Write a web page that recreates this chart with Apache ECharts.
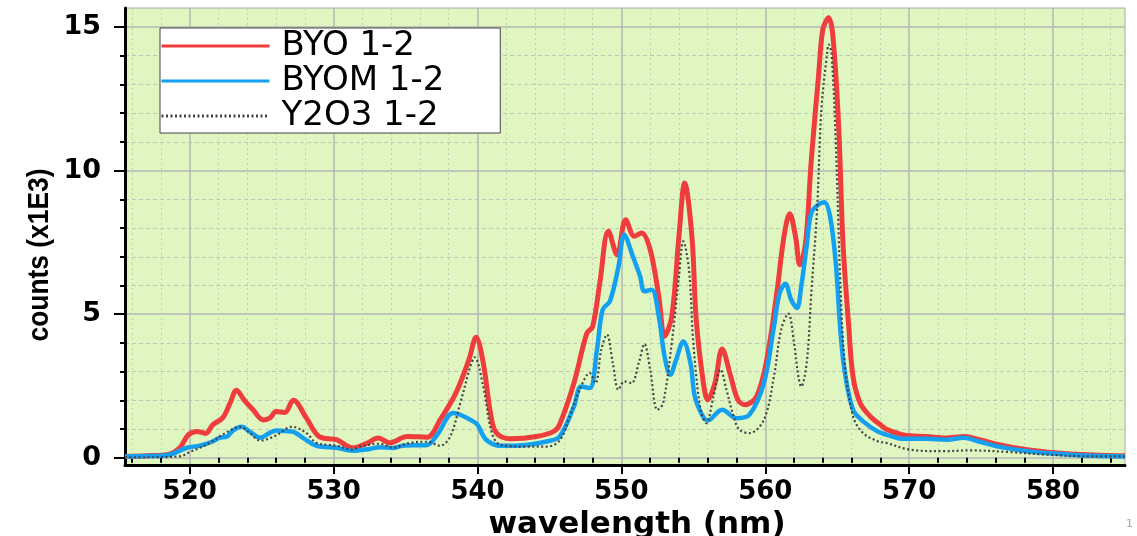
<!DOCTYPE html>
<html>
<head>
<meta charset="utf-8">
<title>counts vs wavelength</title>
<script src="https://cdn.jsdelivr.net/npm/echarts@6/dist/echarts.min.js"></script>
<style>
  html, body { margin: 0; padding: 0; background: #fff; }
  #chart { width: 1137px; height: 536px; }
</style>
</head>
<body>
<div id="chart"></div>
<script>
// BYO 1-2 (red)
const byoNm = [515.5, 517, 518.5, 519.3, 519.9, 520.5, 521.1, 521.6, 522.3, 522.8, 523.25, 523.8, 524.4, 525.1, 525.6, 526.0, 526.6, 527.2, 528.1, 529.0, 530.2, 531.3, 532.3, 533.1, 533.9, 535.1, 536.5, 537.4, 538.5, 539.4, 539.9, 540.4, 540.9, 541.3, 542.3, 544.1, 545.3, 545.7, 546.7, 547.6, 548.0, 548.5, 549.1, 549.7, 550.3, 550.9, 551.4, 552.0, 552.6, 553.0, 553.5, 554.0, 554.4, 554.9, 555.2, 555.7, 556.0, 556.5, 557.0, 557.6, 558.1, 558.6, 559.4, 560.1, 560.8, 561.3, 561.7, 562.1, 562.4, 562.8, 563.2, 563.7, 564.0, 564.4, 564.7, 565.1, 565.4, 565.8, 566.1, 566.6, 567.3, 568.0, 568.4, 569.6, 571.2, 572.6, 573.8, 574.9, 576.3, 578.2, 580.0, 582.8, 585.0];
const byoCounts = [0.05, 0.07, 0.12, 0.35, 0.8, 0.92, 0.85, 1.15, 1.4, 1.9, 2.35, 2.0, 1.67, 1.32, 1.4, 1.61, 1.58, 2.0, 1.39, 0.74, 0.63, 0.35, 0.5, 0.69, 0.52, 0.74, 0.72, 1.32, 2.26, 3.41, 4.2, 3.3, 1.56, 0.87, 0.66, 0.74, 0.92, 1.15, 2.6, 4.34, 4.57, 6.09, 7.89, 7.07, 8.29, 7.71, 7.83, 7.25, 5.62, 4.23, 4.92, 7.71, 9.57, 7.71, 4.81, 2.6, 2.02, 2.6, 3.79, 2.83, 2.02, 1.85, 2.14, 3.41, 5.74, 7.71, 8.5, 7.71, 6.72, 7.48, 10.38, 13.29, 14.91, 15.32, 14.68, 11.54, 7.48, 4.57, 2.83, 1.9, 1.44, 1.15, 1.0, 0.8, 0.74, 0.69, 0.74, 0.63, 0.45, 0.28, 0.18, 0.1, 0.07];

// BYOM 1-2 (blue)
const byomNm = [515.5, 517, 518.5, 519.8, 520.7, 521.5, 522.1, 522.6, 523.0, 523.6, 524.2, 524.9, 525.5, 526.0, 526.6, 527.1, 528.0, 528.8, 530.2, 531.3, 532.5, 533.2, 534.1, 534.8, 536.5, 537.2, 538.3, 538.8, 539.7, 540.0, 540.6, 541.6, 543.4, 544.8, 545.7, 546.7, 547.2, 547.8, 548.3, 548.7, 549.2, 549.8, 550.2, 550.8, 551.3, 551.6, 552.1, 552.6, 553.0, 553.4, 553.8, 554.3, 554.8, 555.1, 555.6, 556.0, 557.0, 558.0, 558.9, 559.9, 560.6, 561.0, 561.4, 561.8, 562.2, 562.5, 562.9, 563.2, 563.7, 564.1, 564.5, 564.9, 565.2, 565.5, 566.1, 566.8, 567.8, 568.4, 569.6, 571.2, 572.6, 573.8, 574.9, 576.3, 578.2, 580.0, 582.8, 585.0];
const byomCounts = [0.05, 0.06, 0.1, 0.35, 0.42, 0.55, 0.7, 0.74, 0.95, 1.08, 0.9, 0.7, 0.85, 0.95, 0.93, 0.92, 0.65, 0.42, 0.35, 0.25, 0.31, 0.37, 0.34, 0.42, 0.45, 0.8, 1.56, 1.5, 1.27, 1.15, 0.63, 0.42, 0.45, 0.57, 0.74, 1.79, 2.48, 2.43, 3.76, 5.16, 5.45, 6.67, 7.77, 7.01, 6.32, 5.8, 5.85, 4.92, 3.53, 2.89, 3.41, 4.05, 3.3, 2.14, 1.5, 1.3, 1.67, 1.38, 1.5, 2.6, 4.57, 5.74, 6.06, 5.5, 5.22, 5.97, 7.48, 8.53, 8.82, 8.9, 8.41, 6.78, 4.57, 3.07, 1.67, 1.27, 0.92, 0.81, 0.66, 0.66, 0.63, 0.7, 0.56, 0.38, 0.23, 0.15, 0.07, 0.05];

// Y2O3 1-2 (grey dotted)
const y2o3Nm = [515.5, 517, 519.3, 520.0, 520.7, 521.5, 522.5, 523.5, 524.2, 524.9, 526.0, 527.1, 528.1, 528.8, 530.2, 531.3, 531.8, 533.2, 534.1, 535.3, 536.5, 537.4, 538.1, 538.8, 539.5, 539.8, 540.4, 541.0, 541.6, 543.4, 544.8, 545.7, 546.4, 547.1, 547.8, 548.2, 548.6, 549.0, 549.4, 549.8, 550.2, 550.7, 551.2, 551.6, 552.0, 552.5, 552.9, 553.5, 554.0, 554.3, 554.7, 555.0, 555.5, 555.9, 556.4, 556.9, 557.3, 557.8, 558.2, 558.9, 559.9, 560.6, 561.1, 561.6, 562.0, 562.3, 562.5, 562.9, 563.2, 563.6, 563.9, 564.3, 564.4, 564.6, 564.9, 565.2, 565.5, 566.1, 566.8, 567.8, 568.4, 570.1, 572.4, 574.2, 577.0, 579.3, 582.8, 585.0];
const y2o3Counts = [0.02, 0.02, 0.05, 0.2, 0.35, 0.55, 0.87, 1.08, 0.85, 0.6, 0.78, 1.08, 0.87, 0.52, 0.42, 0.28, 0.39, 0.49, 0.35, 0.52, 0.56, 0.42, 0.74, 1.9, 3.18, 3.5, 2.48, 0.86, 0.45, 0.39, 0.39, 0.6, 1.44, 2.37, 2.95, 2.6, 3.76, 4.29, 3.3, 2.37, 2.66, 2.6, 3.3, 3.96, 3.07, 1.67, 1.9, 4.0, 6.32, 7.54, 6.55, 4.0, 1.67, 1.21, 2.14, 3.07, 2.37, 1.44, 0.98, 0.86, 1.32, 2.83, 4.46, 5.02, 4.0, 2.83, 2.48, 3.41, 5.74, 8.64, 12.13, 14.1, 14.39, 14.1, 10.97, 6.32, 3.41, 1.44, 0.86, 0.58, 0.52, 0.28, 0.23, 0.26, 0.2, 0.12, 0.05, 0.05];

// ticks
const xMajorTicks = [520, 530, 540, 550, 560, 570, 580];
const xMinorTicks = [516, 518, 522, 524, 526, 528, 532, 534, 536, 538, 542, 544, 546, 548, 552, 554, 556, 558, 562, 564, 566, 568, 572, 574, 576, 578, 582, 584];
const yMajorTicks = [0, 5, 10, 15];
const yMinorTicks = [1, 2, 3, 4, 6, 7, 8, 9, 11, 12, 13, 14];

const pairs = (xs, ys) => xs.map((x, i) => [x, ys[i]]);

const chart = echarts.init(document.getElementById('chart'));

const tickFont = {
  fontFamily: 'DejaVu Sans',
  fontWeight: 'bold',
  fontSize: 26,
  color: '#000'
};

chart.setOption({
  animation: false,
  backgroundColor: '#fff',
  grid: {
    left: 125,
    right: 12,
    top: 8,
    bottom: 71,
    show: true,
    backgroundColor: '#dff6c0',
    borderColor: '#a8a8a8',
    borderWidth: 1,
    outerBoundsMode: 'none'
  },
  legend: {
    orient: 'vertical',
    left: 160,
    top: 28,
    padding: [1, 56, 0, 0],
    itemGap: 1,
    itemWidth: 108,
    itemHeight: 20,
    backgroundColor: '#fff',
    borderColor: '#444',
    borderWidth: 1,
    borderRadius: 0,
    // hide the marker dot, keep only the line sample
    itemStyle: { color: 'rgba(0,0,0,0)', borderWidth: 0, opacity: 0 },
    lineStyle: { width: 3 },
    textStyle: {
      fontFamily: 'DejaVu Sans',
      fontSize: 34,
      color: '#000',
      padding: [0, 0, 0, 7]
    },
    data: ['BYO 1-2', 'BYOM 1-2', 'Y2O3 1-2']
  },
  xAxis: [
    {
      type: 'value',
      min: 515.5,
      max: 585,
      name: 'wavelength (nm)',
      nameLocation: 'middle',
      nameGap: 36,
      nameTextStyle: {
        fontFamily: 'DejaVu Sans',
        fontWeight: 'bold',
        fontSize: 31,
        color: '#000',
        padding: [0, 0, 0, 24]
      },
      axisLine: { show: true, onZero: false, lineStyle: { color: '#000', width: 3 } },
      axisTick: { show: true, customValues: xMajorTicks, length: 9, lineStyle: { color: '#000', width: 2 } },
      axisLabel: { ...tickFont, customValues: xMajorTicks, margin: 14 },
      splitLine: { show: true, lineStyle: { color: '#b4b4b4', width: 1.5 } }
    },
    {
      type: 'value',
      min: 515.5,
      max: 585,
      position: 'bottom',
      axisLine: { show: false },
      axisTick: { show: true, customValues: xMinorTicks, length: 5, lineStyle: { color: '#000', width: 2 } },
      axisLabel: { show: false },
      splitLine: { show: true, lineStyle: { color: '#c4cfb8', width: 1, type: [2, 3] } }
    }
  ],
  yAxis: [
    {
      type: 'value',
      min: -0.25,
      max: 15.66,
      axisLine: { show: true, onZero: false, lineStyle: { color: '#000', width: 3 } },
      axisTick: { show: true, customValues: yMajorTicks, length: 11, lineStyle: { color: '#000', width: 2 } },
      axisLabel: { ...tickFont, fontSize: 27, customValues: yMajorTicks, margin: 24 },
      splitLine: { show: true, lineStyle: { color: '#b4b4b4', width: 1.5 } }
    },
    {
      type: 'value',
      min: -0.25,
      max: 15.66,
      position: 'left',
      axisLine: { show: false },
      axisTick: { show: true, customValues: yMinorTicks, length: 5, lineStyle: { color: '#000', width: 2 } },
      axisLabel: { show: false },
      splitLine: { show: true, lineStyle: { color: '#c0c8b4', width: 1, type: [4, 3] } }
    }
  ],
  series: [
    {
      name: 'BYO 1-2',
      type: 'line',
      smooth: 0.35,
      showSymbol: false,
      symbol: 'none',
      lineStyle: { color: '#ef3c3c', width: 5 },
      itemStyle: { color: '#ef3c3c' },
      data: pairs(byoNm, byoCounts)
    },
    {
      name: 'BYOM 1-2',
      type: 'line',
      smooth: 0.35,
      showSymbol: false,
      symbol: 'none',
      lineStyle: { color: '#14a0f0', width: 4.5 },
      itemStyle: { color: '#14a0f0' },
      data: pairs(byomNm, byomCounts)
    },
    {
      name: 'Y2O3 1-2',
      type: 'line',
      smooth: 0.35,
      showSymbol: false,
      symbol: 'none',
      lineStyle: { color: '#444', width: 2.2, type: [2, 2.5] },
      itemStyle: { color: '#444' },
      data: pairs(y2o3Nm, y2o3Counts)
    }
  ],
  graphic: [
    {
      // y axis title, narrow bold face squeezed along the text
      type: 'text',
      x: 40,
      y: 255,
      rotation: Math.PI / 2,
      scaleX: 0.88,
      style: {
        text: 'counts (x1E3)',
        font: 'bold 30px "Liberation Sans", Arial, sans-serif',
        fill: '#000',
        align: 'center',
        verticalAlign: 'middle'
      }
    },
    {
      type: 'text',
      right: 4,
      bottom: 6,
      style: { text: '1', fill: '#aaa', font: '11px DejaVu Sans' }
    }
  ]
});

window.addEventListener('resize', () => chart.resize());
</script>
</body>
</html>
